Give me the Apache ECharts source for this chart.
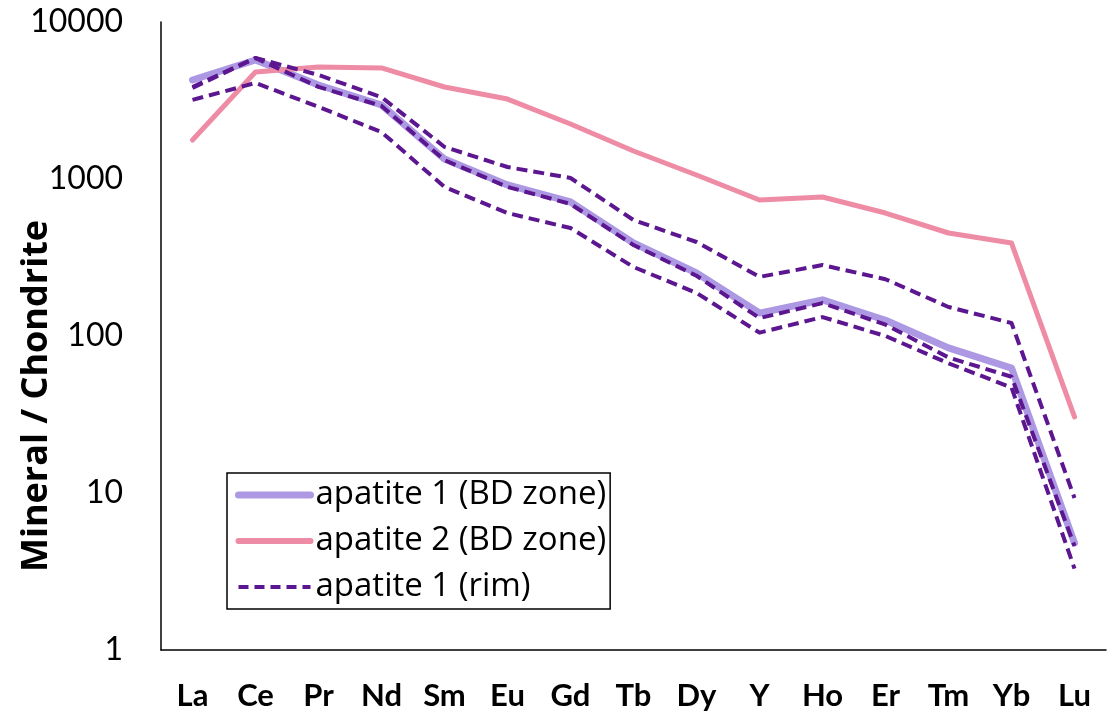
<!DOCTYPE html>
<html>
<head>
<meta charset="utf-8">
<script src="https://cdn.jsdelivr.net/npm/echarts@6/dist/echarts.min.js"></script>
<style>
html,body{margin:0;padding:0;background:#fff;}
#chart{width:1119px;height:717px;}
</style>
</head>
<body>
<div id="chart"></div>
<script>
const categories = ['La','Ce','Pr','Nd','Sm','Eu','Gd','Tb','Dy','Y','Ho','Er','Tm','Yb','Lu'];
const yTicks = [1, 10, 100, 1000, 10000];
const apatite1BD = [4270, 5730, 3970, 2960, 1340, 916, 714, 391, 252, 140, 170, 126, 84, 62.5, 4.8];
const apatite2BD = [1770, 4800, 5170, 5100, 3855, 3230, 2240, 1507, 1060, 735, 768, 607, 453, 391, 30.5];
const rimA = [3855, 5900, 4600, 3320, 1600, 1192, 1015, 548, 397, 238, 283, 230, 153, 121, 9.3];
const rimB = [3800, 5900, 3860, 2920, 1320, 890, 694, 380, 242, 130, 162, 118, 73, 55, 4.6];
const rimC = [3190, 4090, 2880, 1990, 890, 607, 487, 275, 188, 105, 132, 100, 67, 47, 3.3];

const FONT = 'Lato, "Open Sans", sans-serif';
const WIDE_FONT = '"Open Sans", Lato, sans-serif';
const C1 = '#ad98e3', C2 = '#ee8ca5', C3 = '#5c1690';
const chart = echarts.init(document.getElementById('chart'), null, {renderer: 'canvas'});

function solid(name, data, color, width) {
  return {name, type: 'line', data, symbol: 'none', showSymbol: false, smooth: false,
    lineStyle: {color, width, cap: 'round', join: 'round'}, itemStyle: {color}};
}
function dashed(name, data) {
  return {name, type: 'line', data, symbol: 'none', showSymbol: false, smooth: false,
    lineStyle: {color: C3, width: 4, type: [11, 6], cap: 'butt', join: 'round'},
    itemStyle: {color: C3}};
}

chart.setOption({
  animation: false,
  backgroundColor: '#fff',
  grid: {left: 161, right: 13, top: 22, bottom: 67, containLabel: false, outerBoundsMode: 'none'},
  legend: {
    orient: 'vertical', left: 227, top: 473,
    data: [
      {name: 'apatite 1 (BD zone)', itemStyle: {opacity: 0}, lineStyle: {width: 7, color: C1}},
      {name: 'apatite 2 (BD zone)', itemStyle: {opacity: 0}, lineStyle: {width: 6, color: C2}},
      {name: 'apatite 1 (rim)', itemStyle: {opacity: 0}, lineStyle: {width: 4, color: C3, type: [10, 6]}}
    ],
    itemWidth: 72, itemHeight: 14, itemGap: 10,
    padding: [4, 4, 4, 8],
    borderColor: '#000', borderWidth: 1.5,
    textStyle: {fontFamily: WIDE_FONT, fontSize: 33, color: '#000', lineHeight: 36}
  },
  xAxis: {
    type: 'category', data: categories, boundaryGap: true,
    axisLine: {lineStyle: {color: '#000', width: 1.5}},
    axisTick: {show: false},
    axisLabel: {fontFamily: FONT, fontWeight: 'bold', fontSize: 31, color: '#000', margin: 30, interval: 0},
    splitLine: {show: false}
  },
  yAxis: {
    type: 'log', logBase: 10, min: yTicks[0], max: yTicks[yTicks.length - 1],
    name: 'Mineral / Chondrite', nameLocation: 'middle', nameGap: 106, nameMoveOverlap: false,
    nameTextStyle: {fontFamily: WIDE_FONT, fontWeight: 'bold', fontSize: 36, color: '#000', padding: [0, 120, 0, 0]},
    axisLine: {show: true, lineStyle: {color: '#000', width: 1.5}},
    axisTick: {show: false},
    axisLabel: {fontFamily: FONT, fontSize: 32, color: '#000', margin: 38,
      formatter: function (v) { return String(Math.round(v)); }},
    splitLine: {show: false}
  },
  series: [
    solid('apatite 1 (BD zone)', apatite1BD, C1, 7),
    solid('apatite 2 (BD zone)', apatite2BD, C2, 5),
    dashed('apatite 1 (rim)', rimA),
    dashed('apatite 1 (rim)', rimB),
    dashed('apatite 1 (rim)', rimC)
  ]
});
</script>
</body>
</html>
